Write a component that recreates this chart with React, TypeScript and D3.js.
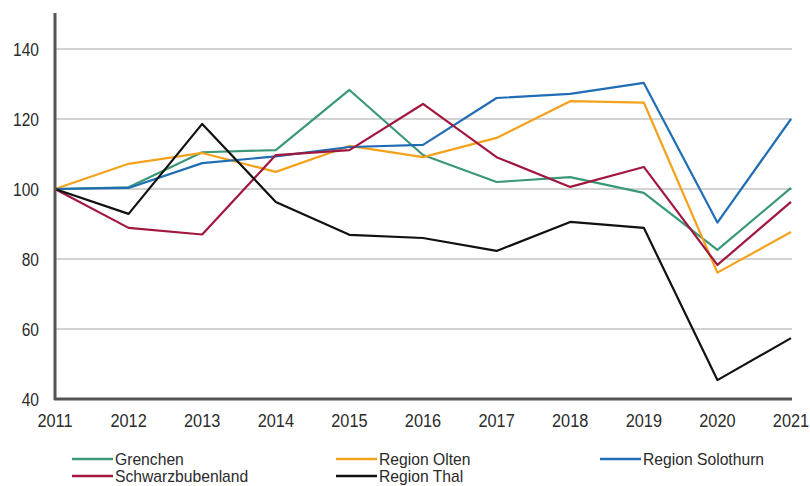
import React from "react";
import * as d3 from "d3";

const years = [2011, 2012, 2013, 2014, 2015, 2016, 2017, 2018, 2019, 2020, 2021];
const yTicks = [40, 60, 80, 100, 120, 140];
const grenchen = [100, 100.5, 110.5, 111.1, 128.3, 109.7, 102, 103.4, 98.9, 82.6, 100.3];
const olten = [100, 107.2, 110.3, 104.9, 112.3, 109.1, 114.6, 125.1, 124.7, 76.1, 87.7];
const solothurn = [100, 100.3, 107.4, 109.3, 112, 112.6, 126, 127.2, 130.3, 90.4, 120];
const schwarzbubenland = [100, 88.9, 87.0, 109.7, 111.1, 124.3, 109.1, 100.6, 106.3, 78.3, 96.3];
const thal = [100, 92.9, 118.6, 96.3, 86.9, 86, 82.3, 90.6, 88.9, 45.4, 57.4];

const seriesNames = ["Grenchen", "Region Olten", "Region Solothurn", "Schwarzbubenland", "Region Thal"];
const seriesData = [grenchen, olten, solothurn, schwarzbubenland, thal];
const seriesColors = ["#3a9877", "#f4a21c", "#1f6db5", "#a1173f", "#111111"];

const font = "'Liberation Sans', Arial, sans-serif";

function T({ x, y, anchor = "start", size, sx, children }: any) {
  return (
    <text
      transform={`translate(${x},${y}) scale(${sx},1)`}
      textAnchor={anchor}
      fontFamily={font}
      fontSize={size}
      fill="#2b2b2b"
    >
      {children}
    </text>
  );
}

export default function App() {
  const W = 810, H = 486;
  const x = d3.scaleLinear().domain([2011, 2021]).range([55, 791]);
  const y = d3.scaleLinear().domain([40, 140]).range([399, 49]);
  const line = d3.line<number>().x((_, i) => x(years[i])).y((d) => y(d));
  const legendPos = [
    [72, 459], [336, 459], [600, 459], [72, 476], [336, 476],
  ];
  return (
    <svg width={W} height={H} style={{ position: "absolute", left: 0, top: 0, background: "#fff" }}>
      {yTicks.filter((t) => t > 40).map((t) => (
        <line key={t} x1={55} x2={792} y1={y(t)} y2={y(t)} stroke="#a8a8a8" strokeWidth={1.2} />
      ))}
      {seriesData.map((d, i) => (
        <path key={i} d={line(d) || ""} fill="none" stroke={seriesColors[i]} strokeWidth={2.2} strokeLinejoin="round" />
      ))}
      <line x1={55} x2={55} y1={13} y2={400} stroke="#555" strokeWidth={3} />
      <line x1={54} x2={792} y1={399} y2={399} stroke="#555" strokeWidth={3} />
      {yTicks.map((t) => (
        <T key={t} x={39} y={y(t) + 7} anchor="end" size={18.5} sx={0.84}>{t}</T>
      ))}
      {years.map((yr) => (
        <T key={yr} x={x(yr)} y={427} anchor="middle" size={19} sx={0.86}>{yr}</T>
      ))}
      {seriesNames.map((n, i) => (
        <g key={n}>
          <line x1={legendPos[i][0]} x2={legendPos[i][0] + 41} y1={legendPos[i][1]} y2={legendPos[i][1]} stroke={seriesColors[i]} strokeWidth={2.5} />
          <T x={legendPos[i][0] + 43} y={legendPos[i][1] + 6} size={16} sx={0.98}>{n}</T>
        </g>
      ))}
    </svg>
  );
}
